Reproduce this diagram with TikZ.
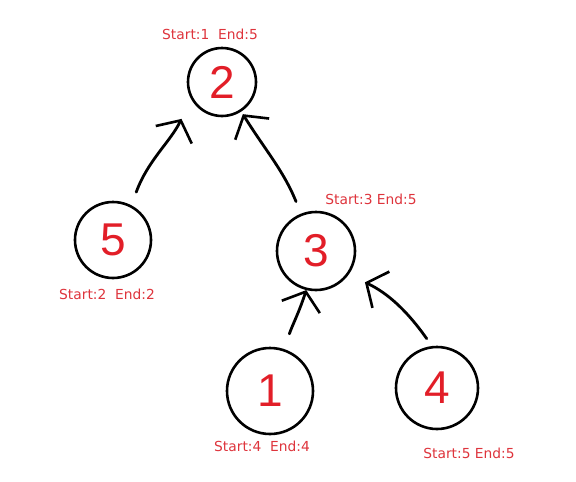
\documentclass[tikz,border=0pt]{standalone}
\usepackage{fontspec}
\setmainfont{DejaVu Sans}
\newfontfamily\digitfont{Liberation Sans}
\usetikzlibrary{arrows.meta,positioning}
\definecolor{inkred}{RGB}{226,30,40}
\definecolor{tagred}{RGB}{222,52,60}

\begin{document}
\begin{tikzpicture}[x=1pt, y=-1pt,
  vertex/.style={draw, circle, line width=2.6pt, inner sep=0pt,
                 minimum size=#1, text=inkred,
                 font=\digitfont\fontsize{46}{46}\selectfont},
  vertex/.default=72pt,
  tag/.style={text=tagred, font=\fontsize{13.8}{15}\selectfont, inner sep=0pt},
  arr/.style={-{Straight Barb[length=16pt, width=40pt, line width=2.6pt]},
              line width=2.8pt, line cap=round}]
\useasboundingbox (0,0) rectangle (576,482);
% tree
\node[vertex=68pt] (n2) at (222,82) {2};
\node[vertex=76pt] (n5) at (113,240) {5};
\node[vertex=78pt] (n3) at (316,251) {3};
\node[vertex=86pt] (n1) at (270,391) {1};
\node[vertex=82pt] (n4) at (437,388) {4};
% start / end labels
\node[tag] (t2) at (210,34) {Start:1\ \ End:5};
\node[tag] (t3) at (371,199) {Start:3 End:5};
\node[tag] (t5) at (107,294) {Start:2\ \ End:2};
\node[tag] (t1) at (262,446) {Start:4\ \ End:4};
\node[tag] (t4) at (469,453) {Start:5 End:5};
% child -> parent
\draw[arr, shorten <=14pt, shorten >=22pt] (n5.62) to[out=70, in=-116] (n2.209);
\draw[arr, shorten <=13pt, shorten >=3pt] (n3.112) to[out=112, in=-58] (n2.303);
\draw[arr, shorten <=16pt] (n1.71) to[out=72, in=-108] (n3.256);
\draw[arr, shorten <=9pt, shorten >=18pt] (n4.97) to[out=125, in=-25] (n3.-36);
\end{tikzpicture}
\end{document}
